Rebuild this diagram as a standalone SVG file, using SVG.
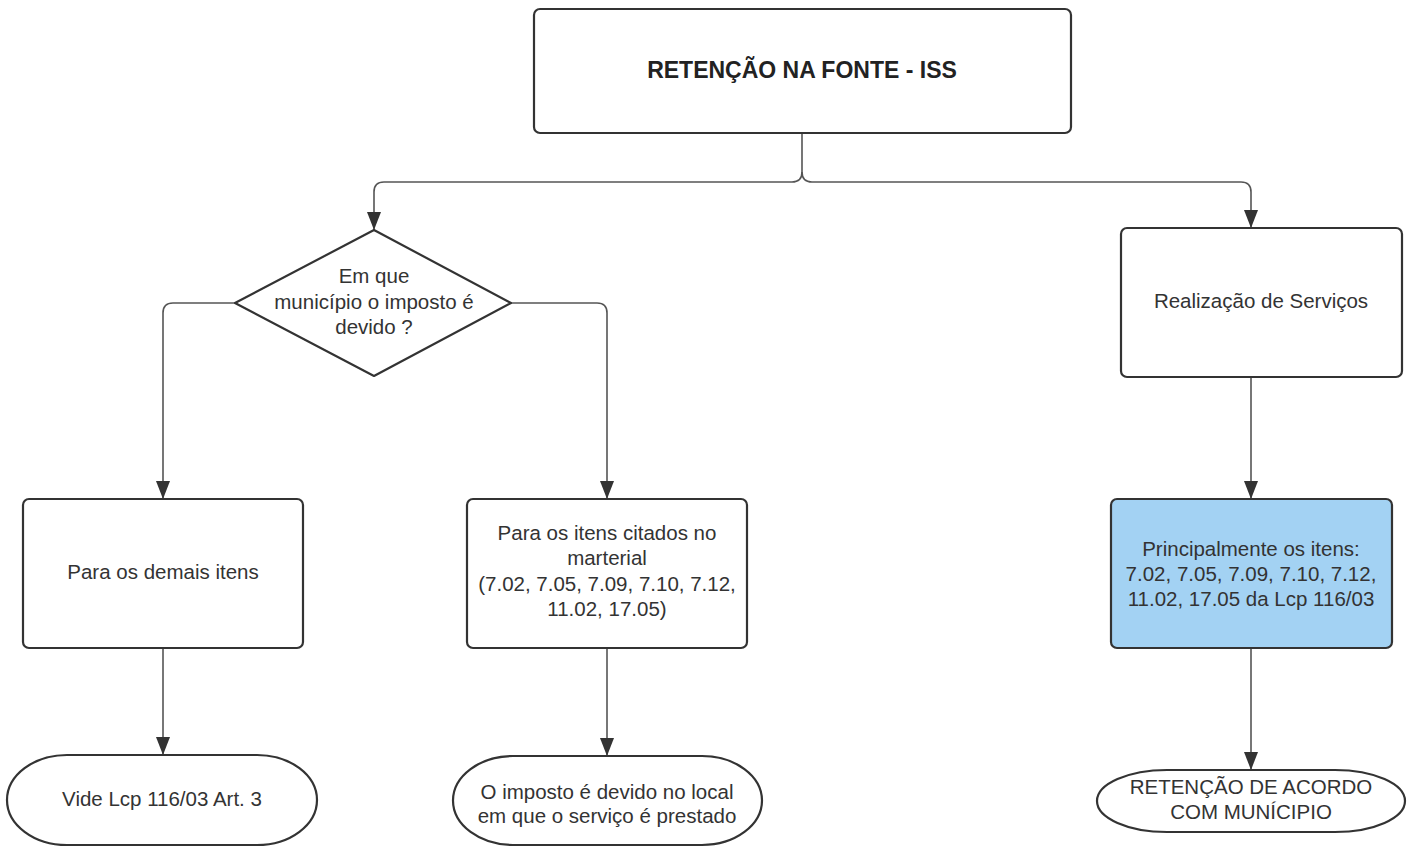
<svg xmlns="http://www.w3.org/2000/svg" width="1413" height="847" viewBox="0 0 1413 847">
<style>
.box{fill:#fff;stroke:#333;stroke-width:2.2}
.blue{fill:#a3d2f3;stroke:#333;stroke-width:2.2}
.t{font-family:"Liberation Sans",Arial,sans-serif;font-size:20.5px;fill:#333;text-anchor:middle}
.title{font-family:"Liberation Sans",Arial,sans-serif;font-size:23px;font-weight:bold;fill:#222;text-anchor:middle}
.c{fill:none;stroke:#555;stroke-width:1.6}
</style>
<defs>
<marker id="a" markerUnits="userSpaceOnUse" markerWidth="18" markerHeight="14" refX="18" refY="7" orient="auto" viewBox="0 0 18 14">
<path d="M0,0 L18,7 L0,14 Z" fill="#333"/>
</marker>
</defs>
<g id="connectors">
<path class="c" d="M802,133 V172 Q802,182 792,182 H384 Q374,182 374,192 V230" marker-end="url(#a)"/>
<path class="c" d="M802,172 Q802,182 812,182 H1241 Q1251,182 1251,192 V228" marker-end="url(#a)"/>
<path class="c" d="M235,303 H173 Q163,303 163,313 V499" marker-end="url(#a)"/>
<path class="c" d="M511,303 H597 Q607,303 607,313 V499" marker-end="url(#a)"/>
<path class="c" d="M1251,377 V499" marker-end="url(#a)"/>
<path class="c" d="M163,648 V755" marker-end="url(#a)"/>
<path class="c" d="M607,648 V756" marker-end="url(#a)"/>
<path class="c" d="M1251,648 V770" marker-end="url(#a)"/>
</g>
<g id="title">
<rect class="box" x="534" y="9" width="537" height="124" rx="6"/>
<text class="title" x="802" y="78">RETENÇÃO NA FONTE - ISS</text>
</g>
<g id="decision">
<path class="box" d="M374,230 L511,303 L374,376 L235,303 Z" stroke-linejoin="round"/>
<text class="t" x="374" y="283">Em que</text>
<text class="t" x="374" y="309">município o imposto é</text>
<text class="t" x="374" y="334">devido ?</text>
</g>
<g id="servicos">
<rect class="box" x="1121" y="228" width="281" height="149" rx="6"/>
<text class="t" x="1261" y="308">Realização de Serviços</text>
</g>
<g id="demais">
<rect class="box" x="23" y="499" width="280" height="149" rx="6"/>
<text class="t" x="163" y="579">Para os demais itens</text>
</g>
<g id="citados">
<rect class="box" x="467" y="499" width="280" height="149" rx="6"/>
<text class="t" x="607" y="540">Para os itens citados no</text>
<text class="t" x="607" y="565">marterial</text>
<text class="t" x="607" y="591">(7.02, 7.05, 7.09, 7.10, 7.12,</text>
<text class="t" x="607" y="616">11.02, 17.05)</text>
</g>
<g id="principalmente">
<rect class="blue" x="1111" y="499" width="281" height="149" rx="6"/>
<text class="t" x="1251" y="556">Principalmente os itens:</text>
<text class="t" x="1251" y="581">7.02, 7.05, 7.09, 7.10, 7.12,</text>
<text class="t" x="1251" y="606">11.02, 17.05 da Lcp 116/03</text>
</g>
<g id="vide">
<rect class="box" x="7" y="755" width="310" height="90" rx="60" ry="45"/>
<text class="t" x="162" y="806">Vide Lcp 116/03 Art. 3</text>
</g>
<g id="local">
<rect class="box" x="453" y="756" width="309" height="89" rx="60" ry="44.5"/>
<text class="t" x="607" y="799">O imposto é devido no local</text>
<text class="t" x="607" y="823">em que o serviço é prestado</text>
</g>
<g id="retencao">
<rect class="box" x="1097" y="770" width="308" height="62" rx="70" ry="31"/>
<text class="t" x="1251" y="794">RETENÇÃO DE ACORDO</text>
<text class="t" x="1251" y="819">COM MUNÍCIPIO</text>
</g>
</svg>
